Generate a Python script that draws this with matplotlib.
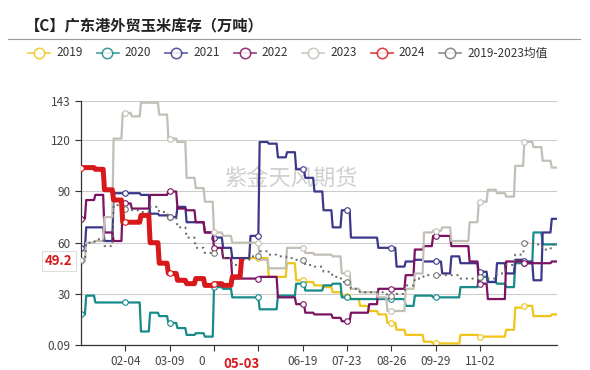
import numpy as np
import matplotlib.pyplot as plt
from matplotlib.lines import Line2D
from matplotlib.transforms import Bbox

plt.rcParams['font.family'] = ['Noto Sans CJK SC', 'DejaVu Sans']

# x axis: day of year (2024 calendar), labels every 34 days
tick_days = [34, 68, 102, 136, 170, 204, 238, 272, 306]
tick_labels = ['02-04', '03-09', '04-12', '', '06-19', '07-23', '08-26', '09-29', '11-02']
y_ticks = [0.09, 30, 60, 90, 120, 143]

# weekly readings (week w is centred on day 7*w)
y2019_start_week = 18
y2019 = [51, 51, 51, 40, 40, 48, 38, 37, 35, 34, 31, 29, 27, 23, 20, 18, 13, 9,
         6, 6, 2, 1, 1, 1, 6, 6, 5, 5, 5, 9, 22, 23, 17, 17, 18]
y2020 = [18, 29, 25, 25, 25, 25, 25, 8, 19, 17, 13, 10, 6, 7, 5, 34, 33, 28,
         28, 28, 21, 21, 29, 29, 36, 32, 32, 35, 36, 28, 27, 27, 27, 27, 27, 27,
         23, 29, 29, 28, 28, 28, 34, 34, 40, 37, 36, 34, 48, 48, 66, 59, 59]
y2021 = [57, 69, 69, 61, 89, 89, 89, 88, 77, 76, 75, 81, 72, 72, 66, 63, 57, 51,
         51, 64, 119, 118, 110, 113, 103, 98, 90, 79, 69, 79, 63, 63, 63, 57, 57, 46,
         49, 50, 49, 49, 42, 52, 48, 48, 43, 37, 48, 42, 50, 49, 38, 66, 74]
y2022 = [74, 85, 88, 66, 61, 83, 80, 80, 88, 88, 90, 80, 79, 72, 66, 57, 51, 39,
         39, 39, 40, 40, 28, 28, 24, 19, 18, 18, 16, 14, 19, 19, 24, 33, 33, 33,
         41, 56, 58, 64, 64, 58, 58, 49, 36, 27, 27, 49, 49, 48, 48, 48, 49]
y2023 = [49, 60, 61, 75, 121, 136, 134, 142, 142, 135, 121, 119, 98, 92, 84, 66, 64, 60,
         60, 60, 50, 45, 45, 57, 57, 54, 53, 53, 52, 42, 33, 31, 31, 28, 20, 20,
         33, 42, 66, 67, 69, 61, 61, 72, 84, 91, 89, 87, 105, 119, 116, 108, 104]
y2024 = [104, 104, 103, 91, 85, 72, 72, 76, 60, 48, 42, 38, 36, 39, 35, 36, 35, 40]
y2024_last_day = 123
y2024_last = 49.2
y2024_last_label = '05-03'
y_mean = [50, 60, 62, 58, 82, 80, 79, 78, 81, 78, 75, 69, 63, 57, 54, 54, 51, 47,
          50, 52, 55, 53, 52, 51, 50, 47, 46, 43, 40, 37, 33, 31, 31, 31, 29, 30,
          35, 39, 41, 41, 41, 41, 39, 39, 40, 39, 42, 47, 53, 60, 59, 56, 59]

days = np.arange(366)


def daily(weekly, start_week=0, n_days=366):
    w = np.full(60, np.nan)
    w[start_week:start_week + len(weekly)] = weekly
    return w[(np.arange(n_days) + 3) // 7]


d2019 = daily(y2019, y2019_start_week)
d2019[:y2019_start_week * 7 - 3] = np.nan
d2024 = np.append(daily(y2024, 0, y2024_last_day), y2024_last)

fig = plt.figure(figsize=(5.9, 3.7), dpi=100)
ax = fig.add_axes([81 / 590, 1 - 345 / 370, 476 / 590, 244 / 370])

series = [
    ('2019', d2019, '#f0c419'),
    ('2020', daily(y2020), '#178a8a'),
    ('2021', daily(y2021), '#3b3889'),
    ('2022', daily(y2022), '#7c1262'),
    ('2023', daily(y2023), '#c3bfb6'),
]
for name, vals, color in series:
    ax.plot(days, vals, color=color, lw=1.6, marker='o', markevery=34,
            ms=4, mfc='white', mec=color, mew=0.8, zorder=2)

ax.plot(days, daily(y_mean), color='#666666', lw=1.4, ls=(0, (1, 2)),
        marker='o', markevery=34, ms=4, mfc='white', mec='#777777', mew=0.8, zorder=3)
ax.plot(np.arange(len(d2024)), d2024, color='#d7191c', lw=3.6, solid_joinstyle='round',
        marker='o', markevery=34, ms=4, mfc='white', mec='#d7191c', mew=0.8, zorder=4)

ax.set_xlim(0, 365)
ax.set_ylim(0.09, 143)
ax.set_yticks(y_ticks)
ax.set_yticklabels(['0.09', '30', '60', '90', '120', '143'])
ax.set_xticks(tick_days)
ax.set_xticklabels(tick_labels)
ax.tick_params(axis='both', colors='#333333', labelcolor='#444444',
               labelsize=8.5, length=4, width=0.8)
ax.grid(axis='y', color='#cccccc', lw=0.8)
ax.set_axisbelow(True)
for side in ['top', 'right']:
    ax.spines[side].set_visible(False)
for side in ['left', 'bottom']:
    ax.spines[side].set_color('#333333')
    ax.spines[side].set_linewidth(0.9)

# the axis-pointer label hides most of the 04-12 tick label
lab = ax.xaxis.get_major_ticks()[2].label1
lab.set_clip_box(Bbox.from_extents(0, 0, 205, 370))
lab.set_clip_on(True)

# watermark
ax.text(0.44, 0.68, '紫金天风期货', transform=ax.transAxes, fontsize=16,
        color='#d0d0d0', ha='center', va='center', zorder=1)

# axis pointer labels
ax.text(-0.018, y2024_last, f'{y2024_last}', transform=ax.get_yaxis_transform(),
        ha='right', va='center', color='#d7191c', fontsize=9.5, fontweight='bold',
        bbox=dict(boxstyle='square,pad=0.25', fc='white', ec='#dddddd', lw=0.8),
        clip_on=False)
ax.text(y2024_last_day, -0.05, y2024_last_label, transform=ax.get_xaxis_transform(),
        ha='center', va='top', color='#d7191c', fontsize=9.5, fontweight='bold',
        clip_on=False)

# title and legend
fig.text(25 / 590, 1 - 25 / 370, '【C】广东港外贸玉米库存（万吨）', fontsize=11,
         fontweight='bold', color='#222222', va='center', ha='left')
fig.add_artist(Line2D([8 / 590, 580 / 590], [1 - 39 / 370] * 2,
                      transform=fig.transFigure, color='#999999', lw=0.8))

legend_items = [('2019', '#f0c419'), ('2020', '#178a8a'), ('2021', '#3b3889'),
                ('2022', '#7c1262'), ('2023', '#c3bfb6'), ('2024', '#d7191c'),
                ('2019-2023均值', '#777777')]
for i, (name, color) in enumerate(legend_items):
    cx = 39 + i * 68.5
    cy = 1 - 53 / 370
    fig.add_artist(Line2D([(cx - 11) / 590, (cx + 11) / 590], [cy, cy],
                          transform=fig.transFigure, color=color, lw=1.3, alpha=0.75))
    fig.add_artist(Line2D([cx / 590], [cy], transform=fig.transFigure, marker='o',
                          ms=7.5, mfc='white', mec=color, mew=1.1, alpha=0.85))
    fig.text((cx + 17) / 590, cy, name, fontsize=8.5, color='#333333',
             va='center', ha='left')

fig.savefig('out.png', dpi=100)
